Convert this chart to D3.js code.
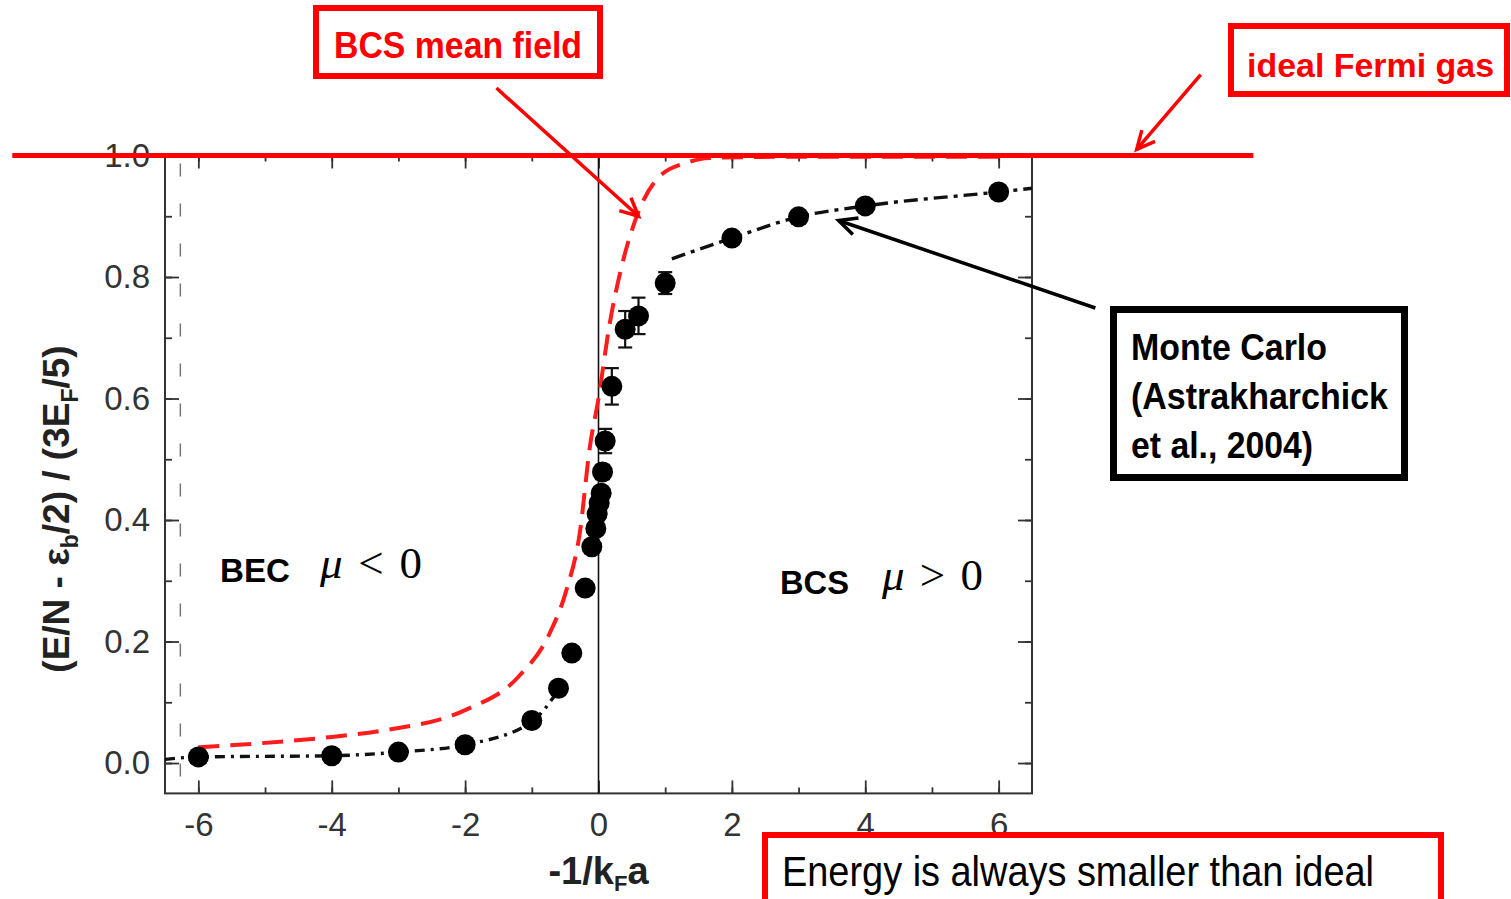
<!DOCTYPE html>
<html><head><meta charset="utf-8">
<script src="https://cdn.jsdelivr.net/npm/d3@7"></script>
<style>
html,body{margin:0;padding:0;background:#fff;overflow:hidden}
svg{display:block;font-family:"Liberation Sans",Arial,sans-serif}
</style></head><body>
<svg id="chart" width="1511" height="899"></svg>
<script>
// Monte Carlo points (Astrakharchik et al. 2004)
const mcX=[-6,-4,-3,-2,-1,-0.6,-0.4,-0.2,-0.1,-0.04,-0.02,0.01,0.04,0.06,0.1,0.2,0.4,0.6,1,2,3,4,6];
const mcY=[0.01,0.012,0.018,0.03,0.07,0.123,0.181,0.288,0.356,0.386,0.41,0.428,0.444,0.479,0.53,0.62,0.714,0.736,0.79,0.864,0.899,0.917,0.94];
const mcErr=[0,0,0,0,0,0,0,0,0,0,0,0,0,0.012,0.02,0.03,0.03,0.03,0.018,0,0,0,0];
// fitted curves through MC (dash-dot)
const fitBecX=[-6.5,-6,-4,-3,-2,-1,-0.6];
const fitBecY=[0.006,0.01,0.012,0.018,0.03,0.068,0.12];
const fitBcsX=[1.1,2,3,4,6,6.5];
const fitBcsY=[0.83,0.864,0.899,0.917,0.94,0.946];
// BCS mean field (red dashed)
const bcsX=[-6,-4,-3.2,-2,-1.2,-0.73,-0.48,-0.28,-0.13,0,0.16,0.36,0.57,0.91,1.32,1.66,3,6];
const bcsY=[0.026,0.043,0.054,0.087,0.142,0.214,0.285,0.379,0.52,0.6,0.718,0.823,0.899,0.965,0.988,0.996,0.998,0.998];
// ideal Fermi gas level and its drawn extent
const idealY=1.0;const idealX=[-8.79,9.82];
const refLineX=-6.27;
const xMajor=[-6,-4,-2,0,2,4,6];const xMinor=[-6,-5,-4,-3,-2,-1,0,1,2,3,4,5,6];
const yMajor=[0,0.2,0.4,0.6,0.8,1.0];const yMinor=[0,0.1,0.2,0.3,0.4,0.5,0.6,0.7,0.8,0.9,1.0];
// annotation arrows in data units [fromX,fromY,toX,toY]
const arrows=[
  {p:[-1.53,1.111,0.6,0.9],c:'#ff0000',w:3.5},
  {p:[9.03,1.133,8.07,1.01],c:'#ff0000',w:3.5},
  {p:[7.45,0.749,3.6,0.893],c:'#000',w:3.5}
];

const svg=d3.select('#chart');
const m={l:165,r:1032,t:155.5,b:793.4};
const x=d3.scaleLinear().domain([-6.5,6.5]).range([m.l,m.r]);
const y=d3.scaleLinear().domain([-0.05,1.0]).range([m.b,m.t]);

// frame + ticks
const ax=svg.append('g').attr('class','axes').attr('color','#333');
function styleAxis(g){g.select('.domain').remove();g.selectAll('line').attr('stroke-width',1.8);g.selectAll('text').attr('fill','#333').attr('font-size',33)}
ax.append('g').attr('transform',`translate(0,${m.b})`).call(d3.axisBottom(x).tickValues(xMinor).tickSize(-6).tickFormat('')).call(styleAxis);
ax.append('g').attr('transform',`translate(0,${m.b})`).call(d3.axisBottom(x).tickValues(xMajor).tickSize(-13).tickPadding(19).tickFormat(d=>String(d))).call(styleAxis);
ax.append('g').attr('transform',`translate(0,${m.t})`).call(d3.axisTop(x).tickValues(xMinor).tickSize(-6).tickFormat('')).call(styleAxis);
ax.append('g').attr('transform',`translate(0,${m.t})`).call(d3.axisTop(x).tickValues(xMajor).tickSize(-13).tickFormat('')).call(styleAxis);
ax.append('g').attr('transform',`translate(${m.l},0)`).call(d3.axisLeft(y).tickValues(yMinor).tickSize(-7).tickFormat('')).call(styleAxis);
ax.append('g').attr('transform',`translate(${m.l},0)`).call(d3.axisLeft(y).tickValues(yMajor).tickSize(-14).tickPadding(15).tickFormat(d3.format('.1f'))).call(styleAxis);
ax.append('g').attr('transform',`translate(${m.r},0)`).call(d3.axisRight(y).tickValues(yMinor).tickSize(-7).tickFormat('')).call(styleAxis);
ax.append('g').attr('transform',`translate(${m.r},0)`).call(d3.axisRight(y).tickValues(yMajor).tickSize(-14).tickFormat('')).call(styleAxis);
ax.append('rect').attr('x',m.l).attr('y',m.t).attr('width',m.r-m.l).attr('height',m.b-m.t).attr('fill','none').attr('stroke','#333').attr('stroke-width',2);

// reference lines
svg.append('line').attr('x1',x(refLineX)).attr('x2',x(refLineX)).attr('y1',m.t+8).attr('y2',m.b).attr('stroke','#777').attr('stroke-width',1.5).attr('stroke-dasharray','13,27');
svg.append('line').attr('x1',x(0)).attr('x2',x(0)).attr('y1',m.t).attr('y2',m.b).attr('stroke','#111').attr('stroke-width',1.6);

// curves
const line=d3.line().x(d=>x(d[0])).y(d=>y(d[1])).curve(d3.curveMonotoneX);
svg.append('path').datum(d3.zip(bcsX,bcsY)).attr('d',line).attr('fill','none').attr('stroke','#ff1c1c').attr('stroke-width',4).attr('stroke-dasharray','21,11');
svg.append('path').datum(d3.zip(fitBecX,fitBecY)).attr('d',line).attr('fill','none').attr('stroke','#111').attr('stroke-width',3.4).attr('stroke-dasharray','10,6,3,6');
svg.append('path').datum(d3.zip(fitBcsX,fitBcsY)).attr('d',line).attr('fill','none').attr('stroke','#111').attr('stroke-width',3.4).attr('stroke-dasharray','14,6,4,6');

// MC points with error bars
const pts=mcX.map((v,i)=>({x:v,y:mcY[i],e:mcErr[i]}));
const eb=svg.append('g').attr('stroke','#111').attr('stroke-width',2.2);
pts.filter(d=>d.e>0).forEach(d=>{
  eb.append('line').attr('x1',x(d.x)).attr('x2',x(d.x)).attr('y1',y(d.y-d.e)).attr('y2',y(d.y+d.e));
  [d.y-d.e,d.y+d.e].forEach(v=>eb.append('line').attr('x1',x(d.x)-7).attr('x2',x(d.x)+7).attr('y1',y(v)).attr('y2',y(v)));
});
svg.append('g').selectAll('circle').data(pts).join('circle').attr('cx',d=>x(d.x)).attr('cy',d=>y(d.y)).attr('r',10.5).attr('fill','#000');

// ideal Fermi gas line
svg.append('line').attr('x1',x(idealX[0])).attr('x2',x(idealX[1])).attr('y1',y(idealY)).attr('y2',y(idealY)).attr('stroke','#ff0000').attr('stroke-width',5);

// axis titles
const xt=svg.append('text').attr('x',x(0)).attr('y',884).attr('text-anchor','middle').attr('font-size',38).attr('font-weight','bold').attr('fill','#222');
xt.append('tspan').text('-1/k');xt.append('tspan').attr('font-size',22).attr('dy',7).text('F');xt.append('tspan').attr('dy',-7).text('a');
const yt=svg.append('text').attr('transform','translate(69,509) rotate(-90)').attr('text-anchor','middle').attr('font-size',37).attr('font-weight','bold').attr('fill','#222');
yt.append('tspan').text('(E/N - ε');yt.append('tspan').attr('font-size',23).attr('dy',9).text('b');yt.append('tspan').attr('dy',-9).text('/2) / (3E');
yt.append('tspan').attr('font-size',23).attr('dy',9).text('F');yt.append('tspan').attr('dy',-9).text('/5)');

// region labels
svg.append('text').attr('x',220).attr('y',582).attr('font-size',34).attr('textLength',70).attr('lengthAdjust','spacingAndGlyphs').attr('font-weight','bold').attr('fill','#000').text('BEC');
svg.append('text').attr('x',320).attr('y',578).attr('font-size',45).attr('textLength',102).attr('font-family','"Liberation Serif",serif').attr('fill','#000').html('<tspan font-style="italic">μ</tspan> &lt; 0');
svg.append('text').attr('x',780).attr('y',594).attr('font-size',34).attr('textLength',69).attr('lengthAdjust','spacingAndGlyphs').attr('font-weight','bold').attr('fill','#000').text('BCS');
svg.append('text').attr('x',882).attr('y',590).attr('font-size',45).attr('textLength',101).attr('font-family','"Liberation Serif",serif').attr('fill','#000').html('<tspan font-style="italic">μ</tspan> &gt; 0');

// arrows
arrows.forEach(a=>{
  const [x1,y1,x2,y2]=[x(a.p[0]),y(a.p[1]),x(a.p[2]),y(a.p[3])];
  const ang=Math.atan2(y2-y1,x2-x1),L=20,sp=0.45;
  svg.append('line').attr('x1',x1).attr('y1',y1).attr('x2',x2).attr('y2',y2).attr('stroke',a.c).attr('stroke-width',a.w);
  svg.append('path').attr('d',`M${x2-L*Math.cos(ang-sp)},${y2-L*Math.sin(ang-sp)}L${x2},${y2}L${x2-L*Math.cos(ang+sp)},${y2-L*Math.sin(ang+sp)}`).attr('fill','none').attr('stroke',a.c).attr('stroke-width',a.w);
});

// annotation boxes
function box(x0,y0,w,h,c,sw){svg.append('rect').attr('x',x0).attr('y',y0).attr('width',w).attr('height',h).attr('fill','#fff').attr('stroke',c).attr('stroke-width',sw)}
function label(t,x0,y0,len,c,fs){svg.append('text').attr('x',x0).attr('y',y0).attr('font-size',fs||37).attr('font-weight','bold').attr('textLength',len).attr('lengthAdjust','spacingAndGlyphs').attr('fill',c).text(t)}
box(316,8,284,68,'#ff0000',6);
label('BCS mean field',334,58,248,'#ff0000');
box(1231,26,276,68,'#ff0000',6);
label('ideal Fermi gas',1247,77,247,'#ff0000',34);
box(1113.5,309.5,291,168,'#000',7);
[['Monte Carlo',196],['(Astrakharchick',257],['et al., 2004)',182]].forEach((t,i)=>label(t[0],1131,360+i*49,t[1],'#000'));
box(765,835,676,90,'#ff0000',6);
svg.append('text').attr('x',782).attr('y',886).attr('font-size',43).attr('textLength',592).attr('lengthAdjust','spacingAndGlyphs').attr('fill','#000').text('Energy is always smaller than ideal');
</script></body></html>
